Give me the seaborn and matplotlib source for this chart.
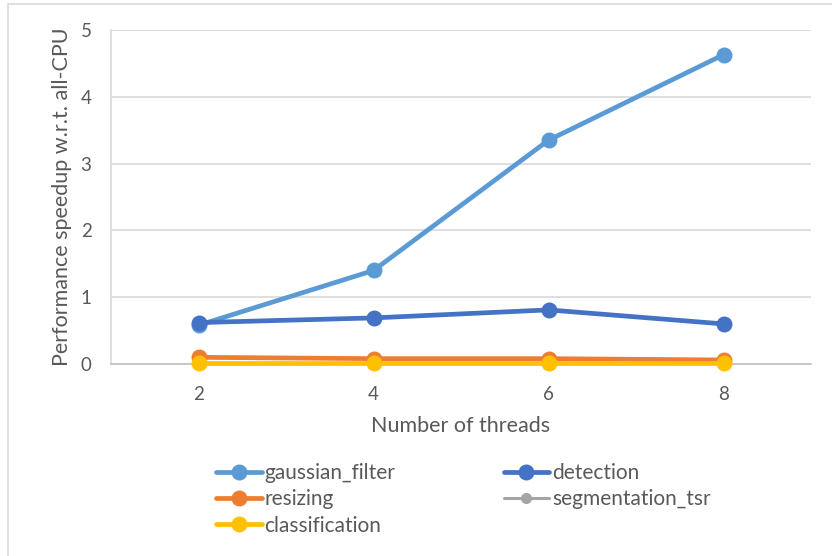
import matplotlib
matplotlib.use("Agg")
import matplotlib.pyplot as plt
from matplotlib.lines import Line2D
from matplotlib.patches import Rectangle
import seaborn as sns
import pandas as pd

threads = ["2", "4", "6", "8"]
gaussian_filter = [0.58, 1.40, 3.35, 4.63]
detection = [0.62, 0.69, 0.81, 0.60]
resizing = [0.10, 0.08, 0.08, 0.06]
segmentation_tsr = [0.02, 0.02, 0.02, 0.02]
classification = [0.02, 0.02, 0.02, 0.02]

series_names = ["gaussian_filter", "detection", "resizing", "segmentation_tsr", "classification"]
series_values = [gaussian_filter, detection, resizing, segmentation_tsr, classification]
colors = {
    "gaussian_filter": "#5B9BD5",
    "detection": "#4472C4",
    "resizing": "#ED7D31",
    "segmentation_tsr": "#A5A5A5",
    "classification": "#FFC000",
}

rows = []
for name, vals in zip(series_names, series_values):
    for t, v in zip(threads, vals):
        rows.append({"threads": t, "speedup": v, "series": name})
df = pd.DataFrame(rows)

sns.set_theme(style="white")
plt.rcParams["font.family"] = ["Lato", "DejaVu Sans"]
text_color = "#595959"

fig = plt.figure(figsize=(8.32, 5.56), dpi=100)
ax = fig.add_axes([111 / 832, 1 - 364 / 556, 700 / 832, 334 / 556])

for name in series_names:
    sub = df[df["series"] == name]
    small = name == "segmentation_tsr"
    sns.lineplot(data=sub, x="threads", y="speedup", ax=ax, color=colors[name],
                 marker="o", markersize=8 if small else 11.5,
                 linewidth=2.2 if small else 3.4,
                 markeredgewidth=0, legend=False, sort=False, zorder=3,
                 clip_on=False)

ax.set_xlim(-0.5, 3.5)
ax.set_ylim(0, 5)
ax.set_yticks([0, 1, 2, 3, 4, 5])
ax.grid(axis="y", color="#D9D9D9", linewidth=1.2)
ax.set_axisbelow(True)
for s in ["top", "right"]:
    ax.spines[s].set_visible(False)
ax.spines["left"].set_color("#D9D9D9")
ax.spines["bottom"].set_color("#BFBFBF")
ax.spines["left"].set_linewidth(1.2)
ax.spines["bottom"].set_linewidth(1.2)
ax.tick_params(axis="both", length=0, labelsize=13.5, colors=text_color)
ax.tick_params(axis="y", pad=14)
ax.tick_params(axis="x", pad=16)
ax.set_xlabel("Number of threads", fontsize=15.5, color=text_color, labelpad=9)
ax.set_ylabel("Performance speedup w.r.t. all-CPU", fontsize=15.5, color=text_color, labelpad=6)

order = ["gaussian_filter", "resizing", "classification", "detection", "segmentation_tsr"]
handles = []
for name in order:
    small = name == "segmentation_tsr"
    handles.append(Line2D([], [], color=colors[name], marker="o",
                          markersize=8 if small else 11.5,
                          linewidth=2.2 if small else 3.4, markeredgewidth=0))
leg = fig.legend(handles, order, loc="upper left", bbox_to_anchor=(216 / 832, 1 - 463 / 556),
                 ncol=2, frameon=False, fontsize=15, handlelength=2.2,
                 handletextpad=0.12, columnspacing=5.2, labelspacing=0.3,
                 borderaxespad=0, borderpad=0)
for t in leg.get_texts():
    t.set_color(text_color)

fig.patches.append(Rectangle((8 / 832, -0.1), 1.2, 1 - 4 / 556 + 0.1, transform=fig.transFigure,
                             fill=False, edgecolor="#D9D9D9", linewidth=1.2))

fig.savefig("out.png", dpi=100)
